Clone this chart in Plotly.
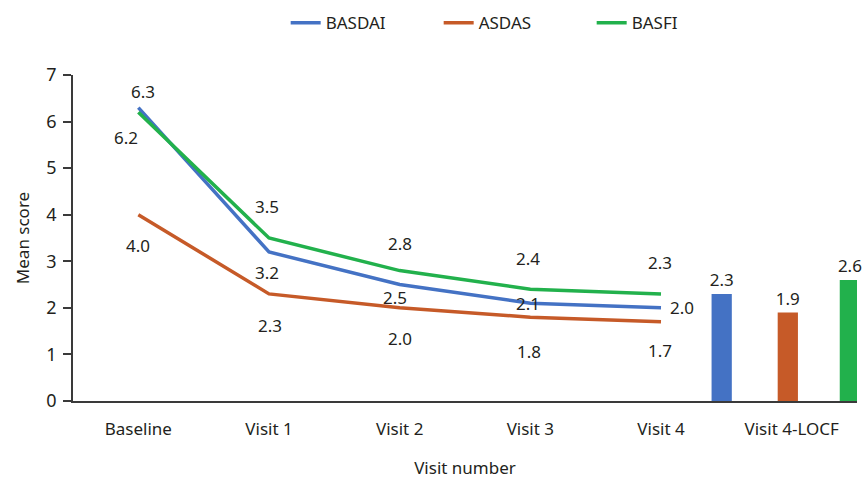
import plotly.graph_objects as go

# Visits on the x axis
visits = ["Baseline", "Visit 1", "Visit 2", "Visit 3", "Visit 4"]
locf_label = "Visit 4-LOCF"

# Mean scores per visit
basdai = [6.3, 3.2, 2.5, 2.1, 2.0]
asdas = [4.0, 2.3, 2.0, 1.8, 1.7]
basfi = [6.2, 3.5, 2.8, 2.4, 2.3]

# Last observation carried forward at visit 4
locf_basdai = 2.3
locf_asdas = 1.9
locf_basfi = 2.6

FONT = "Noto Sans"
FS = 17
TEXT = "#231F20"
BLUE = "#4472C4"
ORANGE = "#C65A28"
GREEN = "#22B14C"

series = [
    ("BASDAI", basdai, locf_basdai, BLUE),
    ("ASDAS", asdas, locf_asdas, ORANGE),
    ("BASFI", basfi, locf_basfi, GREEN),
]

# pixel offsets of each value label relative to its point (dx, dy)
label_shift = {
    "BASDAI": [(5, 16), (-2, -21), (-5, -13), (-2, 0), (21, 0)],
    "ASDAS": [(0, -31), (1, -32), (0, -31), (-1, -34), (-1, -29)],
    "BASFI": [(-12, -25), (-2, 32), (0, 27), (-2, 31), (-1, 31)],
}

# left edge of each LOCF bar, in category units from the category centre
bar_offset = {"BASDAI": -0.613, "ASDAS": -0.107, "BASFI": 0.368}
bar_width = 0.155

fig = go.Figure()
annotations = []

for name, vals, locf, color in series:
    fig.add_trace(go.Scatter(
        x=visits, y=vals, mode="lines", name=name,
        line=dict(color=color, width=3.5),
    ))
    for (v, val), (dx, dy) in zip(zip(visits, vals), label_shift[name]):
        annotations.append(dict(
            x=v, y=val, text=f"{val:.1f}", showarrow=False,
            xshift=dx, yshift=dy,
            font=dict(family=FONT, size=FS, color=TEXT),
        ))

for name, vals, locf, color in series:
    fig.add_trace(go.Bar(
        x=[locf_label], y=[locf], name=name, showlegend=False,
        marker=dict(color=color, line=dict(width=0)),
        width=bar_width, offset=bar_offset[name],
        text=[f"{locf:.1f}"], textposition="outside", cliponaxis=False,
        constraintext="none",
        textfont=dict(family=FONT, size=FS, color=TEXT),
    ))

fig.update_layout(
    width=863, height=481,
    margin=dict(l=73, r=6, t=75, b=80),
    paper_bgcolor="white", plot_bgcolor="white",
    barmode="overlay",
    font=dict(family=FONT, size=FS, color=TEXT),
    annotations=annotations,
    legend=dict(
        orientation="h", x=0.564, xanchor="center",
        yref="container", y=0.952, yanchor="middle",
        font=dict(family=FONT, size=FS, color=TEXT),
        entrywidth=108, entrywidthmode="pixels",
    ),
    xaxis=dict(
        categoryorder="array", categoryarray=visits + [locf_label],
        range=[-0.5, 5.5], showgrid=False, zeroline=False,
        showline=True, linecolor="#3a3a3a", linewidth=1.5,
        ticks="", ticklabelstandoff=12,
        tickfont=dict(family=FONT, size=FS, color=TEXT),
        title=dict(text="Visit number", font=dict(family=FONT, size=FS, color=TEXT), standoff=23),
    ),
    yaxis=dict(
        range=[0, 7], dtick=1, showgrid=False, zeroline=False,
        showline=True, linecolor="#3a3a3a", linewidth=1.5,
        ticks="outside", ticklen=8, tickcolor="#3a3a3a", tickwidth=1.5,
        ticklabelstandoff=3,
        tickfont=dict(family=FONT, size=18, color=TEXT),
        title=dict(text="Mean score", font=dict(family=FONT, size=FS, color=TEXT), standoff=12),
    ),
)

fig.write_html("out.html")
